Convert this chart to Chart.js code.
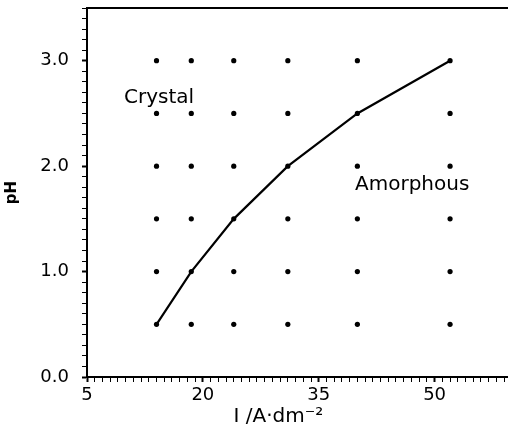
<!DOCTYPE html>
<html>
<head>
<meta charset="utf-8">
<script src="https://cdn.jsdelivr.net/npm/chart.js@4/dist/chart.umd.min.js"></script>
<style>
  html, body { margin: 0; padding: 0; background: #fff; }
  canvas { display: block; }
</style>
</head>
<body>
<canvas id="chart" width="508" height="437"></canvas>
<script>
// current density values where samples were made (A/dm2)
const currents = [14, 18.5, 24, 31, 40, 52]
// pH values of the baths
const phValues = [0.5, 1.0, 1.5, 2.0, 2.5, 3.0]

// crystal / amorphous boundary
const boundaryCurrent = [14, 18.5, 24, 31, 40, 52]
const boundaryPH = [0.5, 1.0, 1.5, 2.0, 2.5, 3.0]

// labelled ticks
const xTickLabels = [5, 20, 35, 50]
const yTickLabels = [0, 1, 2, 3]

// region names and where they sit (data units)
const regionNames = ["Crystal", "Amorphous"]
const regionX = [9.8, 39.7]
const regionY = [2.6, 1.77]

// every sample point on the grid
const samplePoints = []
phValues.forEach(ph => {
  currents.forEach(c => samplePoints.push({ x: c, y: ph }))
})

const boundaryPoints = boundaryCurrent.map((c, i) => ({ x: c, y: boundaryPH[i] }))

const tickFont = { family: "DejaVu Sans", size: 18 }

// draw the region names inside the plot
const regionLabelPlugin = {
  id: "regionLabels",
  afterDatasetsDraw(chart) {
    const ctx = chart.ctx
    const xs = chart.scales.x
    const ys = chart.scales.y
    ctx.save()
    ctx.font = '20px "DejaVu Sans"'
    ctx.fillStyle = "#000"
    ctx.textAlign = "left"
    ctx.textBaseline = "alphabetic"
    regionNames.forEach((name, i) => {
      ctx.fillText(name, xs.getPixelForValue(regionX[i]), ys.getPixelForValue(regionY[i]))
    })
    ctx.restore()
  }
}

const isMajor = (v, list) => list.some(t => Math.abs(t - v) < 1e-6)

// no extra room for overflowing tick labels
function noPadding(scale) {
  scale.paddingTop = 0
  scale.paddingBottom = 0
  scale.paddingLeft = 0
  scale.paddingRight = 0
}

new Chart(document.getElementById("chart"), {
  type: "scatter",
  data: {
    datasets: [
      {
        label: "samples",
        data: samplePoints,
        pointRadius: 2.6,
        pointBackgroundColor: "#000",
        pointBorderWidth: 0,
        showLine: false
      },
      {
        label: "boundary",
        data: boundaryPoints,
        showLine: true,
        borderColor: "#000",
        borderWidth: 2.2,
        pointRadius: 0,
        tension: 0
      }
    ]
  },
  options: {
    responsive: false,
    animation: false,
    layout: { autoPadding: false, padding: { top: 8, right: 0, left: 0, bottom: 0 } },
    plugins: {
      legend: { display: false },
      tooltip: { enabled: false }
    },
    scales: {
      x: {
        type: "linear",
        position: "bottom",
        min: 5,
        max: 59.5,
        afterFit(scale) { scale.height = 60; noPadding(scale) },
        border: { display: true, color: "#000", width: 2 },
        grid: {
          drawOnChartArea: false,
          drawTicks: true,
          tickLength: 5,
          tickColor: "#000",
          tickWidth: ctx => isMajor(ctx.tick.value, xTickLabels) ? 2 : 1
        },
        ticks: {
          stepSize: 1,
          includeBounds: false,
          autoSkip: false,
          maxRotation: 0,
          padding: 3,
          color: "#000",
          font: tickFont,
          callback: v => isMajor(v, xTickLabels) ? String(v) : ""
        },
        title: {
          display: true,
          text: "I /A\u00b7dm\u207b\u00b2\u00a0\u00a0\u00a0\u00a0\u00a0\u00a0",
          color: "#000",
          font: { family: "DejaVu Sans", size: 20 },
          padding: { top: 0, bottom: 8 }
        }
      },
      xTop: {
        type: "linear",
        position: "top",
        min: 5,
        max: 59.5,
        afterFit(scale) { scale.height = 0; noPadding(scale) },
        border: { display: true, color: "#000", width: 2 },
        grid: { drawOnChartArea: false, drawTicks: false },
        ticks: { display: false }
      },
      y: {
        type: "linear",
        min: 0,
        max: 3.5,
        afterFit(scale) { scale.width = 87; noPadding(scale) },
        border: { display: true, color: "#000", width: 2 },
        grid: {
          drawOnChartArea: false,
          drawTicks: true,
          tickLength: 5,
          tickColor: "#000",
          tickWidth: ctx => isMajor(ctx.tick.value, yTickLabels) ? 2 : 1
        },
        ticks: {
          stepSize: 0.1,
          includeBounds: false,
          autoSkip: false,
          padding: 13,
          color: "#000",
          font: tickFont,
          callback: v => isMajor(v, yTickLabels) ? v.toFixed(1) : ""
        },
        title: {
          display: true,
          text: "pH",
          color: "#000",
          font: { family: "DejaVu Sans", size: 15, weight: "bold" },
          padding: { top: 3, bottom: 0 }
        }
      }
    }
  },
  plugins: [regionLabelPlugin]
})
</script>
</body>
</html>
